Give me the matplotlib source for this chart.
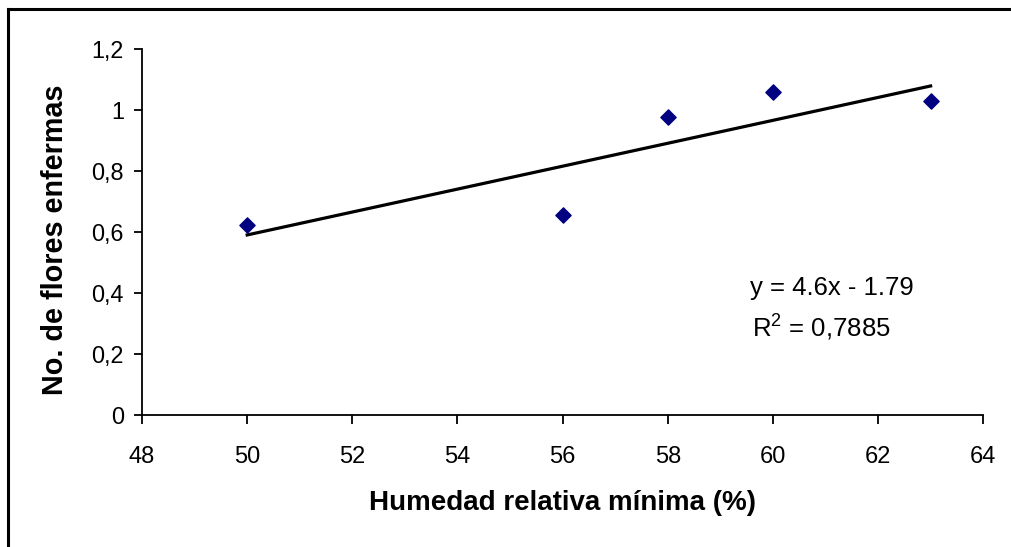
import numpy as np
import matplotlib.pyplot as plt
from matplotlib.lines import Line2D

plt.rcParams['font.family'] = ['Liberation Sans', 'DejaVu Sans']
plt.rcParams['mathtext.fontset'] = 'custom'
plt.rcParams['mathtext.rm'] = 'Liberation Sans'

# data
humedad = [50, 56, 58, 60, 63]
flores = [0.622, 0.656, 0.976, 1.060, 1.028]
xticks = [48, 50, 52, 54, 56, 58, 60, 62, 64]
yticks = [0, 0.2, 0.4, 0.6, 0.8, 1.0, 1.2]
ytick_labels = ["0", "0,2", "0,4", "0,6", "0,8", "1", "1,2"]
eq_text = "y = 4.6x - 1.79"
r2_text = "R$^\\mathregular{2}$ = 0,7885"

fig = plt.figure(figsize=(10.11, 5.47), dpi=100)
ax = fig.add_axes([0.1405, 0.2413, 0.832, 0.6691])

ax.scatter(humedad, flores, marker="D", s=60, color="#000080", zorder=3)

# linear trend line
m, b = np.polyfit(humedad, flores, 1)
xs = np.array([min(humedad), max(humedad)])
ax.plot(xs, m * xs + b, color="black", lw=2.3, zorder=2)

ax.set_xlim(48, 64)
ax.set_ylim(0, 1.2)
ax.set_xticks(xticks)
ax.set_yticks(yticks)
ax.set_yticklabels(ytick_labels)
ax.spines["top"].set_visible(False)
ax.spines["right"].set_visible(False)
ax.spines["left"].set_linewidth(1.3)
ax.spines["bottom"].set_linewidth(1.3)
ax.tick_params(axis="y", direction="out", length=6, width=1.3, labelsize=16.8, pad=7)
ax.tick_params(axis="x", direction="out", length=6.5, width=1.3, labelsize=17, pad=16)

ax.set_xlabel("Humedad relativa mínima (%)", fontsize=20, fontweight="bold", va="center")
ax.set_ylabel("No. de flores enfermas", fontsize=20.7, fontweight="bold", va="center", ha="center")
ax.xaxis.set_label_coords(0.5, -0.2404)
ax.yaxis.set_label_coords(-0.1035, 0.4795)

fig.text(750 / 1011, 1 - 295 / 547, eq_text, fontsize=18.5, va="baseline")
fig.text(752 / 1011, 1 - 336 / 547, r2_text, fontsize=18.5, va="baseline")

# outer chart border (only top and left visible)
fig.add_artist(Line2D([8 / 1011, 8 / 1011], [0, 1 - 9 / 547], color="black", lw=2.2, transform=fig.transFigure))
fig.add_artist(Line2D([8 / 1011, 1], [1 - 9 / 547, 1 - 9 / 547], color="black", lw=2.2, transform=fig.transFigure))

fig.savefig("out.png", dpi=100)
